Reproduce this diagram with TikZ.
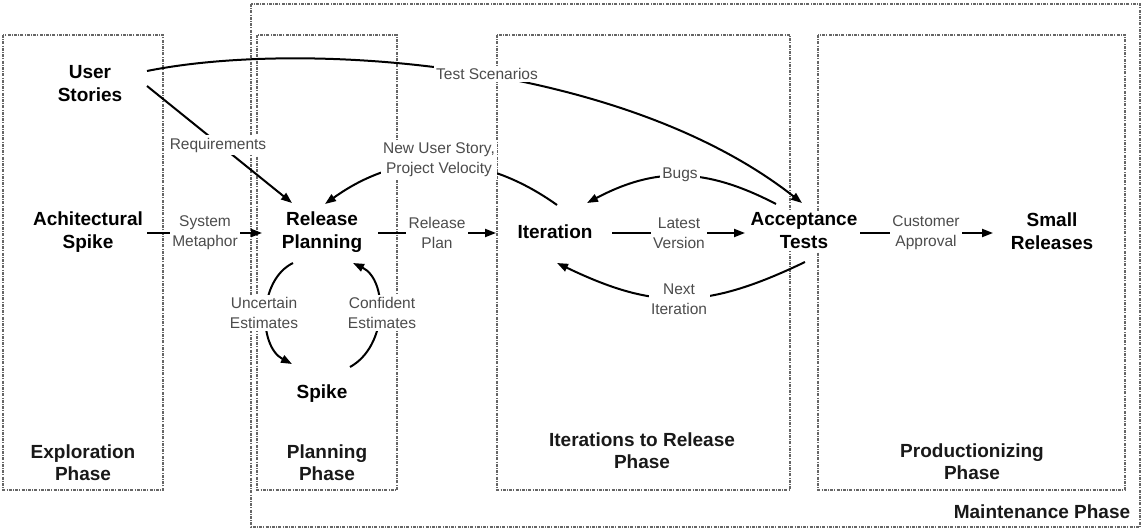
\documentclass[tikz,border=0pt]{standalone}
\usepackage{fontspec}
\setmainfont{Liberation Sans}
\usetikzlibrary{calc,arrows.meta}
\begin{document}
\begin{tikzpicture}[x=1pt,y=-1pt,
  phasebox/.style={draw=black!60, line width=1.1pt, dash pattern=on 3pt off 1.2pt on 1pt off 1.2pt},
  item/.style={font=\fontsize{19}{23}\selectfont\bfseries, align=center, inner sep=1.5pt, fill=white},
  phase/.style={font=\fontsize{19}{22}\selectfont\bfseries, align=center, inner sep=0pt, text=black!90},
  lbl/.style={font=\fontsize{15.5}{20}\selectfont, align=center, fill=white, inner sep=2.5pt, text=black!70},
  flow/.style={line width=2pt, -{Triangle[length=11pt,width=8pt]}},
]
\useasboundingbox (0,0) rectangle (1142,530);
\fill[white] (0,0) rectangle (1142,530);
% phase boxes
\draw[phasebox] (251,4) rectangle (1140,527);
\draw[phasebox] (3,35) rectangle (163,490);
\draw[phasebox] (257,35) rectangle (397,490);
\draw[phasebox] (497,35) rectangle (790,490);
\draw[phasebox] (818,35) rectangle (1125,490);
% phase titles
\node[phase] (exph) at (83,463) {Exploration\\Phase};
\node[phase] (plph) at (327,463) {Planning\\Phase};
\node[phase] (itph) at (642,451) {Iterations to Release\\Phase};
\node[phase] (prph) at (972,462) {Productionizing\\Phase};
\node[phase] (mtph) at (1042,512) {Maintenance Phase};
% main nodes
\node[item] (us) at (90,84) {User\\Stories};
\node[item] (as) at (88,232) {Achitectural\\Spike};
\node[item] (rp) at (322,232) {Release\\Planning};
\node[item] (it) at (555,232) {Iteration};
\node[item] (at) at (804,231) {Acceptance\\Tests};
\node[item] (sr) at (1052,231) {Small\\Releases};
\node[item] (sp) at (322,394) {Spike};
% connectors
\draw[flow] ($(us)+(57,-13)$) .. controls (300,40) and (620,60) .. ($(at)+(-2,-28)$);
\draw[flow] ($(us)+(57,2)$) -- ($(rp)+(-30,-29)$);
\draw[flow] ($(as)+(59,1)$) -- ($(rp)+(-60,1)$);
\draw[flow] ($(rp)+(56,1)$) -- ($(it)+(-59,1)$);
\draw[flow] ($(it)+(57,1)$) -- ($(at)+(-59,2)$);
\draw[flow] ($(at)+(56,2)$) -- ($(sr)+(-59,2)$);
\draw[flow] ($(it)+(2,-27)$) .. controls (480,150) and (400,150) .. ($(rp)+(3,-28)$);
\draw[flow] ($(at)+(-28,-27)$) .. controls (705,167) and (655,167) .. ($(it)+(32,-29)$);
\draw[flow] ($(at)+(1,31)$) .. controls (705,310) and (655,310) .. ($(it)+(2,31)$);
\draw[flow] ($(rp)+(-29,31)$) .. controls (258,280) and (258,346) .. ($(sp)+(-30,-30)$);
\draw[flow] ($(sp)+(28,-27)$) .. controls (388,346) and (388,280) .. ($(rp)+(31,31)$);
% connector labels
\node[lbl] (lts) at (487,74) {Test Scenarios};
\node[lbl] (lreq) at (218,145) {Requirements};
\node[lbl] (lsm) at (205,233) {System\\Metaphor};
\node[lbl] (lrpl) at (437,233) {Release\\Plan};
\node[lbl] (llv) at (679,233) {Latest\\Version};
\node[lbl] (lca) at (926,233) {Customer\\Approval};
\node[lbl] (lnus) at (439,160) {New User Story,\\Project Velocity};
\node[lbl] (lbug) at (680,175) {Bugs};
\node[lbl] (lni) at (679,299) {Next\\Iteration};
\node[lbl] (lue) at (264,313) {Uncertain\\Estimates};
\node[lbl] (lce) at (382,313) {Confident\\Estimates};
\end{tikzpicture}
\end{document}
